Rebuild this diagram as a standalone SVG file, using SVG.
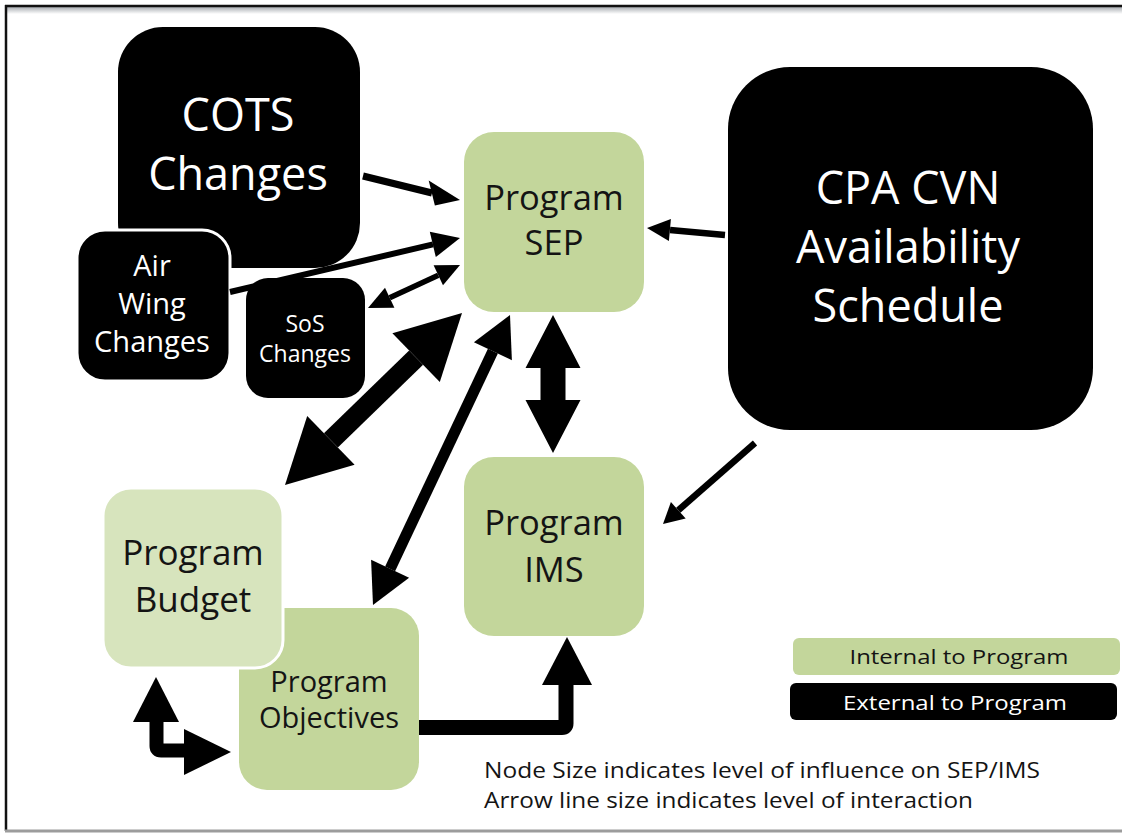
<svg xmlns="http://www.w3.org/2000/svg" width="1122" height="833" viewBox="0 0 1122 833">
  <defs>
    <linearGradient id="topShade" x1="0" y1="0" x2="0" y2="1">
      <stop offset="0" stop-color="#a9adb2"/>
      <stop offset="1" stop-color="#ffffff"/>
    </linearGradient>
    <style>
      .ext { fill: #000000; }
      .int { fill: #c3d69b; }
      .intl { fill: #d7e4bd; }
      .wt { fill: #ffffff; font-family: "Open Sans", "Liberation Sans", sans-serif; text-anchor: middle; }
      .dt { fill: #141414; font-family: "Open Sans", "Liberation Sans", sans-serif; text-anchor: middle; }
      .note { fill: #141414; font-family: "Open Sans", "Liberation Sans", sans-serif; }
      .shaft { stroke: #000000; fill: none; }
      .head { fill: #000000; }
    </style>
  </defs>
  <rect x="0" y="0" width="1122" height="833" fill="#ffffff"/>
  <!-- frame -->
  <g id="frame">
    <rect x="6" y="7" width="1116" height="7" fill="url(#topShade)"/>
    <line x1="5" y1="6" x2="1122" y2="6" stroke="#111" stroke-width="2.5"/>
    <line x1="6" y1="5" x2="6" y2="831" stroke="#111" stroke-width="2.5"/>
    <rect x="5" y="829.5" width="1117" height="3" fill="#9c9c9c"/>
  </g>

  <g id="node-cots">
    <rect class="ext" x="118" y="27" width="242" height="241" rx="45" ry="45"/>
    <text class="wt" font-size="45" x="238" y="131">COTS</text>
    <text class="wt" font-size="45" x="238" y="190">Changes</text>
  </g>
  <g id="node-airwing">
    <rect class="ext" x="77" y="230" width="153" height="151" rx="28" ry="28" stroke="#ffffff" stroke-width="3"/>
    <text class="wt" font-size="29" x="152" y="276">Air</text>
    <text class="wt" font-size="29" x="152" y="314">Wing</text>
    <text class="wt" font-size="29" x="152" y="352">Changes</text>
  </g>
  <g id="node-sos">
    <rect class="ext" x="246" y="278" width="119" height="120" rx="22" ry="22"/>
    <text class="wt" font-size="23" x="305" y="332">SoS</text>
    <text class="wt" font-size="23" x="305" y="362">Changes</text>
  </g>
  <g id="node-sep">
    <rect class="int" x="464" y="132" width="180" height="180" rx="30" ry="30"/>
    <text class="dt" font-size="34.5" x="554" y="210">Program</text>
    <text class="dt" font-size="34.5" x="554" y="255">SEP</text>
  </g>
  <g id="node-cpa">
    <rect class="ext" x="728" y="67" width="365" height="363" rx="62" ry="62"/>
    <text class="wt" font-size="45" x="908" y="204">CPA CVN</text>
    <text class="wt" font-size="45" x="908" y="263">Availability</text>
    <text class="wt" font-size="45" x="908" y="322">Schedule</text>
  </g>
  <g id="node-ims">
    <rect class="int" x="464" y="457" width="180" height="179" rx="30" ry="30"/>
    <text class="dt" font-size="34.5" x="554" y="535">Program</text>
    <text class="dt" font-size="34.5" x="554" y="582">IMS</text>
  </g>
  <g id="node-objectives">
    <rect class="int" x="239" y="608" width="180" height="182" rx="28" ry="28"/>
    <text class="dt" font-size="29" x="329" y="692">Program</text>
    <text class="dt" font-size="29" x="329" y="728">Objectives</text>
  </g>
  <g id="node-budget">
    <rect class="intl" x="103" y="488" width="180" height="180" rx="28" ry="28" stroke="#ffffff" stroke-width="3"/>
    <text class="dt" font-size="35" x="193" y="565">Program</text>
    <text class="dt" font-size="35" x="193" y="612">Budget</text>
  </g>

  <g id="connectors">
    <!-- COTS -> SEP -->
    <line class="shaft" x1="363" y1="176" x2="432" y2="193" stroke-width="7"/>
    <polygon class="head" points="460,200 428.7,180.4 434.9,205.6"/>
    <!-- Air Wing -> SEP -->
    <line class="shaft" x1="230" y1="292" x2="433" y2="244.4" stroke-width="6"/>
    <polygon class="head" points="460,238 435.8,257.1 429.8,231.7"/>
    <!-- SoS <-> SEP -->
    <line class="shaft" x1="389.7" y1="297.8" x2="438.3" y2="275.2" stroke-width="5.5"/>
    <polygon class="head" points="460,265 443,285.2 433.6,265.2"/>
    <polygon class="head" points="368,308 394.4,307.8 385,287.8"/>
    <!-- Budget <-> SEP -->
    <line class="shaft" x1="330.9" y1="440.4" x2="416.1" y2="357.6" stroke-width="20"/>
    <polygon class="head" points="462,313 439.8,382 392.4,333.2"/>
    <polygon class="head" points="285,485 354.6,464.8 307.2,416"/>
    <!-- Objectives <-> SEP -->
    <line class="shaft" x1="390.1" y1="568.8" x2="492.9" y2="351.2" stroke-width="11"/>
    <polygon class="head" points="510,315 511.9,360.2 473.9,342.2"/>
    <polygon class="head" points="373,605 409.1,577.8 371.1,559.8"/>
    <!-- SEP <-> IMS -->
    <polygon class="head" points="553,315 580.5,368 565.5,368 565.5,400 580.5,400 553,453 525.5,400 540.5,400 540.5,368 525.5,368"/>
    <!-- CPA -> SEP -->
    <line class="shaft" x1="725" y1="235" x2="670" y2="230.1" stroke-width="6.5"/>
    <polygon class="head" points="647,228 670.9,219.1 668.9,241.1"/>
    <!-- CPA -> IMS -->
    <line class="shaft" x1="755" y1="443" x2="678.3" y2="510.3" stroke-width="6.5"/>
    <polygon class="head" points="663,524 685.7,518.5 670.9,502.1"/>
    <!-- Objectives -> IMS (elbow) -->
    <path class="shaft" d="M 419 727.5 H 562 Q 566 727.5 566 723.5 V 684" stroke-width="15"/>
    <polygon class="head" points="567,637 592,685 542,685"/>
    <!-- Budget <-> Objectives (elbow) -->
    <path class="shaft" d="M 156.5 721 V 746 Q 156.5 750.5 161 750.5 H 185" stroke-width="14"/>
    <polygon class="head" points="156,677 179,722 133,722"/>
    <polygon class="head" points="231,752 184,729 184,775"/>
  </g>

  <g id="legend">
    <rect class="int" x="793" y="638" width="327" height="37" rx="6" ry="6"/>
    <text class="dt" font-size="20" x="959" y="664" textLength="219" lengthAdjust="spacingAndGlyphs">Internal to Program</text>
    <rect class="ext" x="790" y="683" width="327" height="37" rx="6" ry="6"/>
    <text class="wt" font-size="20" x="955" y="710" textLength="224" lengthAdjust="spacingAndGlyphs">External to Program</text>
  </g>
  <g id="notes">
    <text class="note" font-size="21" x="484" y="778" textLength="556" lengthAdjust="spacingAndGlyphs">Node Size indicates level of influence on SEP/IMS</text>
    <text class="note" font-size="21" x="484" y="808" textLength="489" lengthAdjust="spacingAndGlyphs">Arrow line size indicates level of interaction</text>
  </g>
</svg>
